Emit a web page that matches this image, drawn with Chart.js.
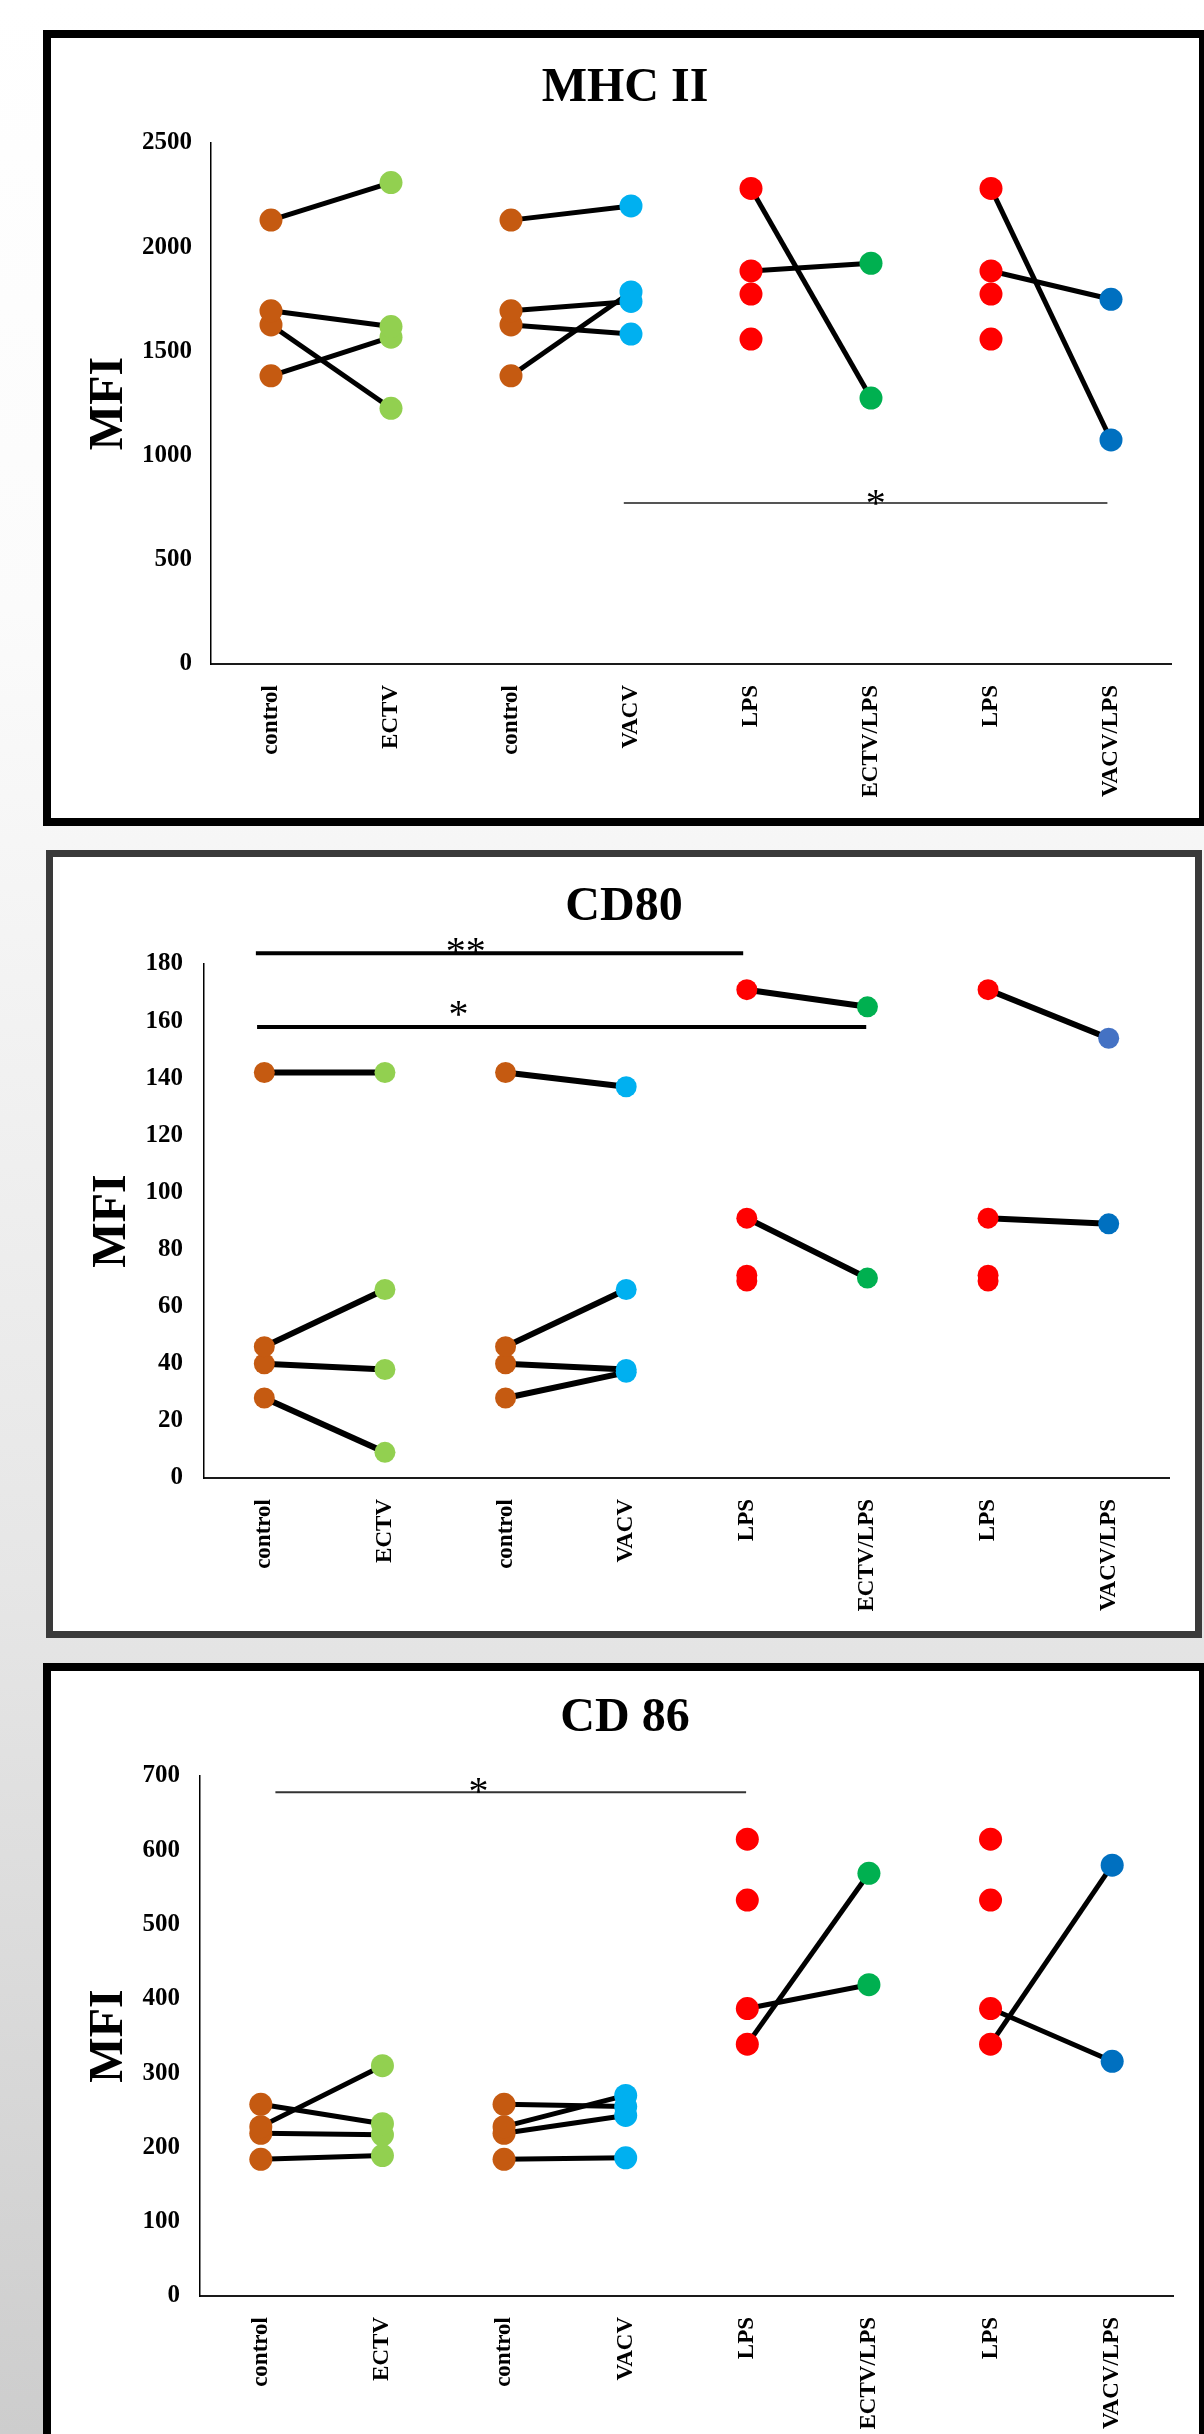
<!DOCTYPE html>
<html>
<head>
<meta charset="utf-8">
<title>MFI paired plots</title>
<script src="https://cdn.jsdelivr.net/npm/chart.js@4.4.1/dist/chart.umd.min.js"></script>
<style>
  html, body { margin: 0; padding: 0; }
  body {
    width: 1204px; height: 2434px; position: relative; overflow: hidden;
    background: linear-gradient(to bottom, #ffffff 0%, #fbfbfb 25%, #e6e6e6 65%, #cdcdcd 100%);
  }
  .panel { position: absolute; box-sizing: border-box; background: #fff; }
  #p1 { left: 43px; top: 30px; width: 1164px; height: 796px; border: 8px solid #000; }
  #p2 { left: 46px; top: 850px; width: 1156px; height: 788px; border: 7px solid #3a3a3a; }
  #p3 { left: 43px; top: 1663px; width: 1164px; height: 800px; border: 8px solid #000; }
  .panel canvas { position: absolute; left: 0; top: 0; }
</style>
</head>
<body>
<div class="panel" id="p1"><canvas id="mhc" width="1148" height="780"></canvas></div>
<div class="panel" id="p2"><canvas id="cd80" width="1142" height="774"></canvas></div>
<div class="panel" id="p3"><canvas id="cd86" width="1148" height="763"></canvas></div>
<script>
// Categories (x axis), same for all three panels
const labels = ['control', 'ECTV', 'control', 'VACV', 'LPS', 'ECTV/LPS', 'LPS', 'VACV/LPS'];
// which columns are paired (lines drawn between same index)
const pairs = [[0, 1], [2, 3], [4, 5], [6, 7]];
const colColors = ['#C55A11', '#92D050', '#C55A11', '#00B0F0', '#FF0000', '#00B050', '#FF0000', '#0070C0'];

// MHC II (values in pairing order)
const mhcControl = [2130, 1695, 1627, 1383];
const mhcEctv = [2310, 1619, 1227, 1568];
const mhcVacv = [2198, 1740, 1583, 1785];
const mhcLps = [2282, 1886, 1775, 1559];
const mhcEctvLps = [1276, 1923];
const mhcVacvLps = [1075, 1750];
const mhcTicks = { max: 2500, step: 500 };
const mhcSig = [{ from: 2.94, to: 6.97, y: 772, mark: '*', at: 5.04 }];

// CD80
const cd80Control = [142, 46, 40, 28];
const cd80Ectv = [142, 66, 38, 9];
const cd80Vacv = [137, 66, 38, 37];
const cd80Lps = [171, 91, 71, 69];
const cd80EctvLps = [165, 70];
const cd80VacvLps = [154, 89];
const cd80VacvLpsColors = ['#4472C4', '#0070C0'];
const cd80Ticks = { max: 180, step: 20 };
const cd80Sig = [
  { from: -0.07, to: 3.97, y: 183.8, mark: '**', at: 1.67 },
  { from: -0.06, to: 4.99, y: 157.9, mark: '*', at: 1.61 }
];

// CD 86
const cd86Control = [258, 228, 219, 184];
const cd86Ectv = [232, 310, 217, 189];
const cd86Vacv = [255, 270, 243, 186];
const cd86Lps = [339, 387, 615, 533];
const cd86EctvLps = [569, 419];
const cd86VacvLps = [580, 316];
const cd86Ticks = { max: 700, step: 100 };
const cd86Sig = [{ from: 0.12, to: 3.99, y: 678, mark: '*', at: 1.79 }];

const serif = '"Liberation Serif", "Times New Roman", serif';

// draws the significance bars + asterisks through the chart scales
const sigPlugin = {
  id: 'sigBars',
  afterDatasetsDraw(chart, args, opts) {
    const { ctx } = chart;
    const xs = chart.scales.x, ys = chart.scales.y;
    (opts.bars || []).forEach((b, k) => {
      const st = opts.styles[k];
      const yPix = ys.getPixelForValue(b.y);
      ctx.save();
      ctx.strokeStyle = st.color;
      ctx.lineWidth = st.width;
      ctx.beginPath();
      ctx.moveTo(xs.getPixelForValue(b.from), yPix);
      ctx.lineTo(xs.getPixelForValue(b.to), yPix);
      ctx.stroke();
      ctx.fillStyle = '#000';
      ctx.font = '40px ' + serif;
      ctx.textAlign = 'center';
      ctx.textBaseline = 'alphabetic';
      ctx.fillText(b.mark, xs.getPixelForValue(b.at), yPix - st.lift + 0.47 * 40);
      ctx.restore();
    });
  }
};

function buildChart(canvasId, p) {
  const datasets = [];
  const cols = p.columns;
  pairs.forEach(([a, b]) => {
    cols[a].forEach((v, i) => {
      const w = cols[b][i];
      if (v == null || w == null) return;
      const data = Array(labels.length).fill(null);
      data[a] = v;
      data[b] = w;
      datasets.push({
        data, borderColor: '#000', borderWidth: p.lineWidth,
        pointRadius: 0, pointHoverRadius: 0, spanGaps: false, order: 1
      });
    });
  });
  const rows = Math.max(...cols.map(c => c.length));
  for (let i = 0; i < rows; i++) {
    datasets.push({
      data: cols.map(c => (c[i] == null ? null : c[i])),
      showLine: false,
      pointRadius: p.pointRadius,
      pointHoverRadius: p.pointRadius,
      pointBorderWidth: 0,
      pointBorderColor: 'rgba(0,0,0,0)',
      pointBackgroundColor: cols.map((c, k) => p.colorAt(k, i)),
      order: 0
    });
  }

  return new Chart(document.getElementById(canvasId), {
    type: 'line',
    data: { labels, datasets },
    plugins: [sigPlugin],
    options: {
      responsive: false,
      animation: false,
      events: [],
      layout: { padding: 0 },
      plugins: {
        legend: { display: false },
        tooltip: { enabled: false },
        title: {
          display: true,
          text: p.title,
          color: '#000',
          font: { family: serif, size: 48, weight: 'bold', lineHeight: 1 },
          padding: { top: p.titleTop, bottom: p.titleBottom }
        },
        sigBars: { bars: p.sig, styles: p.sigStyles }
      },
      scales: {
        x: {
          type: 'category',
          offset: true,
          grid: { display: false, drawTicks: false },
          border: { display: true, color: '#1a1a1a', width: 2 },
          ticks: {
            autoSkip: false, minRotation: 90, maxRotation: 90, padding: 21,
            color: '#000', font: { family: serif, size: 23, weight: 'bold' }
          },
          afterFit(scale) { scale.height = p.xHeight; }
        },
        y: {
          min: 0, max: p.ticks.max,
          grid: { display: false, drawTicks: false },
          border: { display: true, color: '#000', width: 1.5 },
          ticks: {
            stepSize: p.ticks.step, padding: p.tickPad, color: '#000',
            font: { family: serif, size: 25, weight: 'bold' },
            callback: v => String(v)
          },
          title: {
            display: true, text: 'MFI', color: '#000',
            font: { family: serif, size: 48, weight: 'bold', lineHeight: 1 },
            padding: { top: p.mfiPad, bottom: 0 }
          },
          afterFit(scale) { scale.width = p.yWidth; }
        },
        // empty right-hand margin, keeps the title centred on the whole panel
        margin: {
          position: 'right',
          grid: { display: false, drawTicks: false },
          border: { display: false },
          ticks: { display: false },
          afterFit(scale) { scale.width = p.padRight; }
        }
      }
    }
  });
}

buildChart('mhc', {
  title: 'MHC II',
  columns: [mhcControl, mhcEctv, mhcControl, mhcVacv, mhcLps, mhcEctvLps, mhcLps, mhcVacvLps],
  colorAt: k => colColors[k],
  ticks: mhcTicks, sig: mhcSig,
  sigStyles: [{ color: '#555', width: 2, lift: 6 }],
  lineWidth: 5, pointRadius: 11.5,
  yWidth: 160, xHeight: 154, padRight: 28,
  titleTop: 27, titleBottom: 30, mfiPad: 35, tickPad: 19
});

buildChart('cd80', {
  title: 'CD80',
  columns: [cd80Control, cd80Ectv, cd80Control, cd80Vacv, cd80Lps, cd80EctvLps, cd80Lps, cd80VacvLps],
  colorAt: (k, i) => (k === 7 ? cd80VacvLpsColors[i] : colColors[k]),
  ticks: cd80Ticks, sig: cd80Sig,
  sigStyles: [{ color: '#000', width: 4, lift: 8 }, { color: '#000', width: 4, lift: 19 }],
  lineWidth: 6, pointRadius: 10.5,
  yWidth: 151, xHeight: 153, padRight: 26,
  titleTop: 27, titleBottom: 32, mfiPad: 36, tickPad: 21
});

buildChart('cd86', {
  title: 'CD 86',
  columns: [cd86Control, cd86Ectv, cd86Control, cd86Vacv, cd86Lps, cd86EctvLps, cd86Lps, cd86VacvLps],
  colorAt: k => colColors[k],
  ticks: cd86Ticks, sig: cd86Sig,
  sigStyles: [{ color: '#333', width: 2, lift: 7 }],
  lineWidth: 5, pointRadius: 11.5,
  yWidth: 149, xHeight: 138, padRight: 26,
  titleTop: 24, titleBottom: 33, mfiPad: 35, tickPad: 20
});
</script>
</body>
</html>
